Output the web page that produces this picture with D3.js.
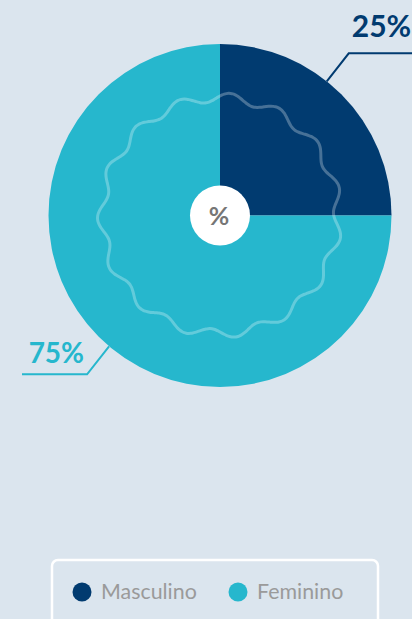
<!DOCTYPE html>
<html><head><meta charset="utf-8">
<script src="https://cdn.jsdelivr.net/npm/d3@7"></script>
<style>
html,body{margin:0;padding:0;background:#dbe5ee;}
svg{display:block;font-family:Lato,"Open Sans",sans-serif;}
</style></head>
<body><svg id="c" width="412" height="619"></svg>
<script>
const categories = ["Masculino", "Feminino"];
const values = [25, 75];
const labels = ["25%", "75%"];
const colors = ["#013b70", "#26b7cd"];

const svg = d3.select("#c");
const cx = 220, cy = 215.5, R = 171.5;
const g = svg.append("g").attr("transform", `translate(${cx},${cy})`);

const pie = d3.pie().sort(null).value(d => d)(values);
const arc = d3.arc().innerRadius(0).outerRadius(R);
g.selectAll("path.slice").data(pie).enter().append("path")
  .attr("class", "slice").attr("d", arc).attr("fill", (d, i) => colors[i]);

// decorative wavy ring
const N = 15, base = 118, amp = 4.5, phase = 0.082;
const pts = d3.range(0, 360).map(k => {
  const a = k / 360 * 2 * Math.PI;
  return [a, base + amp * Math.cos(N * (a - phase))];
});
g.append("path")
  .attr("d", d3.lineRadial().curve(d3.curveCardinalClosed)(pts))
  .attr("fill", "none").attr("stroke", "#ffffff").attr("stroke-opacity", 0.28)
  .attr("stroke-width", 3);

// center circle
g.append("circle").attr("r", 30).attr("fill", "#ffffff");
g.append("text").attr("text-anchor", "middle").attr("x", -1).attr("y", 9.5)
  .attr("font-size", 25).attr("font-weight", 700).attr("fill", "#767676").text("%");

// leader lines + labels
const offsets = [-6.5, -4.7]; // degrees from mid angle (style)
pie.forEach((d, i) => {
  const mid = (d.startAngle + d.endAngle) / 2 + offsets[i] * Math.PI / 180;
  const sx = cx + R * Math.sin(mid), sy = cy - R * Math.cos(mid);
  const dir = Math.sin(mid) >= 0 ? 1 : -1;
  const ex = sx + dir * 22, ey = sy - dir * 28;
  const hx = dir > 0 ? 414 : 22;
  svg.append("path")
    .attr("d", `M${sx},${sy}L${ex},${ey}L${hx},${ey}`)
    .attr("fill", "none").attr("stroke", colors[i]).attr("stroke-width", 2);
  svg.append("text")
    .attr("x", dir > 0 ? ex + 3 : ex - 3)
    .attr("y", dir > 0 ? ey - 16 : ey - 11)
    .attr("text-anchor", dir > 0 ? "start" : "end")
    .attr("font-size", dir > 0 ? 30 : 28)
    .attr("font-weight", 700)
    .attr("fill", colors[i]).text(labels[i]);
});

// legend
svg.append("rect").attr("x", 52).attr("y", 560).attr("width", 326).attr("height", 80)
  .attr("rx", 6).attr("fill", "none").attr("stroke", "#ffffff").attr("stroke-width", 2.5);
const legX = [82, 238];
categories.forEach((c, i) => {
  svg.append("circle").attr("cx", legX[i]).attr("cy", 592).attr("r", 9.5).attr("fill", colors[i]);
  svg.append("text").attr("x", legX[i] + 19).attr("y", 598.5)
    .attr("font-size", 21.4).attr("fill", "#9a9a9a").text(c);
});
</script></body></html>
